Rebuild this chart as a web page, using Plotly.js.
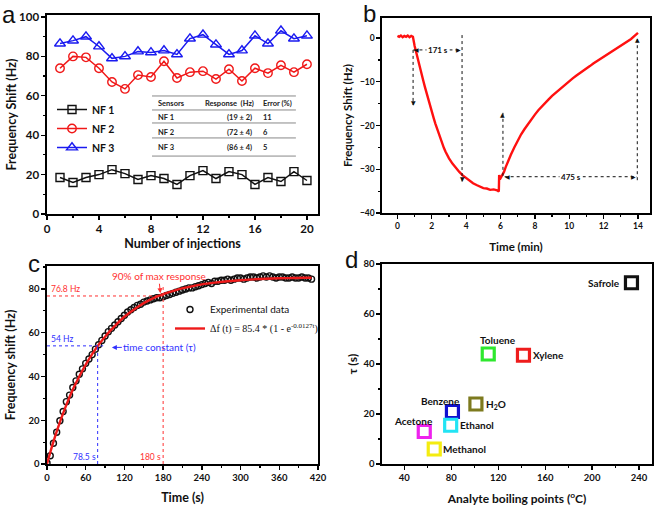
<!DOCTYPE html>
<html><head><meta charset="utf-8">
<script src="https://cdn.plot.ly/plotly-3.0.1.min.js"></script>
<style>html,body{margin:0;padding:0;background:#fff}#chart{width:655px;height:508px}</style>
</head><body><div id="chart"></div>
<script>
// ---------- Panel a ----------
const injections = [1,2,3,4,5,6,7,8,9,10,11,12,13,14,15,16,17,18,19,20];
const nf1 = [18.5,16,18.5,20,22.5,20.5,17.5,19.5,18,15,19.5,22,18,21.5,20,15,18.5,16.5,21.5,17];
const nf2 = [74,80,79.5,74,67,63.5,70.5,69.5,77.5,69,72,72.5,68.5,73.5,67.5,74,71.5,75.5,72,76];
const nf3 = [86.5,88,90,85,79,80,82.5,82,83,81,89,91,86,81,83,90.5,86.5,93,89,90.5];
const seriesNamesA = ['NF 1','NF 2','NF 3'];
const tableHeaders = ['Sensors','Response  (Hz)','Error (%)'];
const tableSensors = ['NF 1','NF 2','NF 3'];
const tableResponse = ['(19 ± 2)','(72 ± 4)','(86 ± 4)'];
const tableError = ['11','6','5'];

// ---------- Panel b ----------
const timeMin = [0,0.1,0.2,0.3,0.4,0.5,0.6,0.7,0.8,0.9,1.0,1.1,1.2,1.3,1.4,1.5,1.6,1.7,1.8,1.9,2.0,2.1,2.2,2.3,2.4,2.5,2.6,2.7,2.8,2.9,3.0,3.2,3.4,3.6,3.8,4.0,4.2,4.4,4.6,4.8,5.0,5.2,5.4,5.6,5.8,5.9,5.92,5.96,6.0,6.1,6.2,6.3,6.4,6.5,6.6,6.8,7.0,7.2,7.4,7.6,7.8,8.0,8.2,8.4,8.6,8.8,9.0,9.2,9.4,9.6,9.8,10.0,10.2,10.4,10.6,10.8,11.0,11.2,11.4,11.6,11.8,12.0,12.2,12.4,12.6,12.8,13.0,13.2,13.4,13.6,13.8,14.0];
const shiftB = [0.5,0.3,0.6,0.2,0.5,0.3,0.6,0.2,0.5,0.3,-1.8,-3.5,-5.1,-6.6,-8.2,-9.7,-11.2,-12.7,-14.1,-15.5,-16.9,-18.2,-19.5,-20.7,-21.9,-23.0,-24.1,-25.1,-26.0,-26.8,-27.5,-28.7,-29.7,-30.6,-31.4,-32.0,-32.7,-33.2,-33.6,-34.0,-34.3,-34.4,-34.7,-34.6,-34.8,-35.1,-31.3,-32.3,-32.0,-31.4,-30.6,-29.5,-28.5,-27.6,-26.7,-25.0,-23.4,-22.0,-20.8,-19.6,-18.5,-17.5,-16.5,-15.6,-14.8,-14.0,-13.2,-12.5,-11.8,-11.1,-10.5,-9.8,-9.2,-8.6,-8.1,-7.5,-6.9,-6.4,-5.8,-5.3,-4.8,-4.3,-3.8,-3.3,-2.8,-2.3,-1.8,-1.3,-0.8,-0.2,0.5,1.2];

// ---------- Panel c ----------
const timeSec = [0,5,10,15,20,25,30,35,40,45,50,55,60,65,70,75,80,85,90,95,100,105,110,115,120,125,130,135,140,145,150,155,160,165,170,175,180,185,190,195,200,205,210,215,220,225,230,235,240,245,250,255,260,265,270,275,280,285,290,295,300,305,310,315,320,325,330,335,340,345,350,355,360,365,370,375,380,385,390,395,400,405,410];
const expShift = [0.5,3.8,9.5,14.5,19.8,24,28.5,31.5,35,38,41,43.5,46,48,50,52.5,54.5,56.5,58.5,60.5,62,63.5,65,66.5,68,69.5,70.5,71.5,72.5,73,74,74.5,75,75.5,76,76,76.5,77,77.5,78,78.5,79,79.5,80,80.5,80.5,81,81.5,82,82.5,83,82.5,83.5,83.5,84,84,84.5,84,84.5,85,85,84.5,85,85.5,85.5,85,85.5,86,85.5,86,85.5,85,85.5,85.5,85,85,85.5,85,85,85.5,85,85,84.5];
const fitTime = [0,10,20,30,40,50,60,70,80,90,100,120,140,160,180,200,220,240,260,280,300,320,340,360,380,400,410];
const fitShift = [0,10.2,19.1,27,34,40,45.4,50.2,54.5,58.2,61.5,67.3,71.7,75.1,77.6,79.5,80.9,82.1,82.9,83.5,84,84.4,84.7,84.9,85,85.1,85.1];
const cLegendNames = ['Experimental data','<span style="font-family:Liberation Serif">Δf (t) = 85.4 * (1 - e<sup>-0.0127t</sup>)</span>'];

// ---------- Panel d ----------
const analytes = ['Safrole','Toluene','Xylene','H<sub>2</sub>O','Benzene','Ethanol','Acetone','Methanol'];
const boilingPoints = [233.5,111.5,141.5,101,81,79.5,57,65.5];
const tau = [72.5,44,43.5,24,21,15.5,13,6];
const analyteColors = ['#111111','#2ee82e','#ee1c1c','#7d7a1e','#1010d0','#22e4f4','#ee22ee','#f4ec10'];

// ---------- layout helpers ----------
const W = 655, H = 508;
const TXT = '#111';
function dom(px0, px1){ return [px0/W, px1/W]; }
function domY(pyTop, pyBot){ return [1 - pyBot/H, 1 - pyTop/H]; }
function axis(o){
  return Object.assign({
    showline:true, linecolor:'#000', linewidth:1.6, mirror:true,
    showgrid:false, zeroline:false, ticks:'outside', ticklen:4, tickwidth:1.3, tickcolor:'#000',
    tickfont:{family:'Lato', size:o.fs, color:TXT, weight:'bold'},
    minor:{dtick:o.minor, ticks:'outside', ticklen:2.5, tickwidth:1.2, tickcolor:'#000'},
    title:{text:o.title, font:{family:'Lato', size:o.tfs, color:TXT, weight:'bold'}, standoff:o.standoff},
    fixedrange:true
  }, o.extra);
}

const layout = {
  width:W, height:H, margin:{l:0,r:0,t:0,b:0},
  paper_bgcolor:'#fff', plot_bgcolor:'#fff',
  showlegend:true,
  xaxis: axis({fs:11.5, minor:2, title:'Number of injections', tfs:12.5, standoff:5,
    extra:{domain:dom(47,318), range:[0,20.85], dtick:4, tick0:0, anchor:'y'}}),
  yaxis: axis({fs:11.5, minor:10, title:'Frequency Shift (Hz)', tfs:12.5, standoff:0,
    extra:{domain:domY(15,214), range:[0,101], dtick:20, tick0:0, anchor:'x'}}),
  xaxis2: axis({fs:8.5, minor:1, title:'Time (min)', tfs:11.5, standoff:13,
    extra:{domain:dom(382,650), range:[-0.9,14.7], dtick:2, tick0:0, anchor:'y2'}}),
  yaxis2: axis({fs:8.5, minor:5, title:'Frequency Shift (Hz)', tfs:11.5, standoff:5,
    extra:{domain:domY(18,213), range:[-40,4.6], dtick:10, tick0:0, anchor:'x2'}}),
  xaxis3: axis({fs:9.5, minor:30, title:'Time (s)', tfs:12.5, standoff:11,
    extra:{domain:dom(47,318), range:[0,420], dtick:60, tick0:0, anchor:'y3'}}),
  yaxis3: axis({fs:9.5, minor:10, title:'Frequency shift (Hz)', tfs:12.5, standoff:10,
    extra:{domain:domY(266,464), range:[0,90.5], dtick:20, tick0:0, anchor:'x3'}}),
  xaxis4: axis({fs:9.5, minor:20, title:'Analyte boiling points (<sup>o</sup>C)', tfs:12, standoff:12,
    extra:{domain:dom(382,652), range:[21,251], dtick:40, tick0:0, anchor:'y4'}}),
  yaxis4: axis({fs:9.5, minor:10, title:'τ (s)', tfs:12, standoff:3,
    extra:{domain:domY(264,464), range:[0,80], dtick:20, tick0:0, anchor:'x4'}}),
  legend:{x:52/W, xanchor:'left', y:1-95/H, yanchor:'top', bgcolor:'rgba(0,0,0,0)',
    font:{family:'Lato', size:10.5, color:TXT, weight:'bold'}, itemwidth:30, tracegroupgap:0},
  legend2:{x:170/W, xanchor:'left', y:1-295/H, yanchor:'top', bgcolor:'rgba(0,0,0,0)',
    font:{family:'Lato', size:10, color:TXT}, itemwidth:30},
  shapes:[], annotations:[]
};

// panel letters
[['a',9,15],['b',369,14],['c',34,263],['d',351,259]].forEach(([t,x,y])=>{
  layout.annotations.push({text:t, xref:'paper', yref:'paper', x:x/W, y:1-y/H, showarrow:false,
    xanchor:'center', yanchor:'middle', font:{family:'Liberation Sans', size:24, color:TXT}});
});

// panel a table
const tblX0 = 8.08, tblX1 = 19.15;
[59.9,52.8,46.2,38.6,29.4].forEach(yv=>{
  layout.shapes.push({type:'line', xref:'x', yref:'y', x0:tblX0, x1:tblX1, y0:yv, y1:yv, line:{color:'#888', width:1}});
});
const tblFont = {family:'Lato', size:7.5, color:'#222', weight:'bold'};
const rowY = [49.2,41.6,34.0];
layout.annotations.push({text:tableHeaders[0], xref:'x', yref:'y', x:8.38, y:55.9, xanchor:'left', showarrow:false, font:tblFont});
layout.annotations.push({text:tableHeaders[1], xref:'x', yref:'y', x:12.0, y:55.9, xanchor:'left', showarrow:false, font:tblFont});
layout.annotations.push({text:tableHeaders[2], xref:'x', yref:'y', x:16.46, y:55.9, xanchor:'left', showarrow:false, font:tblFont});
tableSensors.forEach((s,i)=>{
  layout.annotations.push({text:s, xref:'x', yref:'y', x:8.38, y:rowY[i], xanchor:'left', showarrow:false, font:tblFont});
  layout.annotations.push({text:tableResponse[i], xref:'x', yref:'y', x:15.92, y:rowY[i], xanchor:'right', showarrow:false, font:tblFont});
  layout.annotations.push({text:tableError[i], xref:'x', yref:'y', x:16.46, y:rowY[i], xanchor:'left', showarrow:false, font:tblFont});
});

// dotted guides and arrowheads
function dotLine(xr, yr, x0, y0, x1, y1, color){
  layout.shapes.push({type:'line', xref:xr, yref:yr, x0:x0, y0:y0, x1:x1, y1:y1, line:{color:color, width:1, dash:'dot'}});
}
const glyph = {down:'▼', up:'▲', left:'◀', right:'▶'};
const gshift = {down:[0,3], up:[0,-3], left:[3,0], right:[-3,0]};
function head(xr, yr, x, y, dir, color){
  layout.annotations.push({text:glyph[dir], xref:xr, yref:yr, x:x, y:y, showarrow:false,
    xanchor:'center', yanchor:'middle', xshift:gshift[dir][0], yshift:gshift[dir][1],
    font:{family:'DejaVu Sans', size:6, color:color}});
}
const K = '#111';
dotLine('x2','y2',0.91,-2.7,0.91,-15.3,K); head('x2','y2',0.91,-15.3,'down',K);
dotLine('x2','y2',0.93,-2.7,3.72,-2.7,K); head('x2','y2',0.93,-2.7,'left',K); head('x2','y2',3.72,-2.7,'right',K);
layout.annotations.push({text:'171 s', xref:'x2', yref:'y2', x:2.35, y:-2.7, showarrow:false, bgcolor:'#fff',
  font:{family:'Lato', size:8, color:K, weight:'bold'}, borderpad:1});
dotLine('x2','y2',3.76,0.7,3.76,-32.8,K); head('x2','y2',3.76,-32.8,'down',K);
dotLine('x2','y2',6.14,-31.5,6.14,-16.8,K); head('x2','y2',6.14,-16.8,'up',K);
dotLine('x2','y2',6.24,-31.7,13.94,-31.7,K); head('x2','y2',6.24,-31.7,'left',K); head('x2','y2',13.94,-31.7,'right',K);
layout.annotations.push({text:'475 s', xref:'x2', yref:'y2', x:10.1, y:-31.7, showarrow:false, bgcolor:'#fff',
  font:{family:'Lato', size:8, color:K, weight:'bold'}, borderpad:1});
dotLine('x2','y2',13.96,-32.5,13.96,0.3,K); head('x2','y2',13.96,0.3,'up',K);

// panel c guides
const RC = '#ff3030', BC = '#3030ff';
dotLine('x3','y3',0,76.8,180,76.8,RC);
dotLine('x3','y3',180,0,180,81,RC);
dotLine('x3','y3',0,54,87,54,BC);
dotLine('x3','y3',78.5,0,78.5,54,BC);
const smallC = (c)=>({family:'Lato', size:8.5, color:c});
layout.annotations.push({text:'76.8 Hz', xref:'x3', yref:'y3', x:2.5, y:76.8, xanchor:'left', yanchor:'bottom', showarrow:false, font:smallC(RC)});
layout.annotations.push({text:'54 Hz', xref:'x3', yref:'y3', x:2.5, y:54, xanchor:'left', yanchor:'bottom', showarrow:false, font:smallC(BC)});
layout.annotations.push({text:'78.5 s', xref:'x3', yref:'y3', x:78.5, y:0, xanchor:'right', yanchor:'bottom', showarrow:false, font:smallC(BC)});
layout.annotations.push({text:'180 s', xref:'x3', yref:'y3', x:180, y:0, xanchor:'right', yanchor:'bottom', showarrow:false, font:smallC(RC)});
layout.annotations.push({text:'90% of max response', xref:'x3', yref:'y3', x:176, y:77.6, ax:-2, ay:-18,
  showarrow:true, arrowhead:2, arrowsize:1, arrowwidth:1, arrowcolor:RC, standoff:1,
  font:{family:'Lato', size:10, color:RC}});
layout.annotations.push({text:'time constant (τ)', xref:'x3', yref:'y3', x:100.5, y:53.3, ax:48, ay:0,
  showarrow:true, arrowhead:2, arrowsize:1, arrowwidth:1, arrowcolor:BC,
  font:{family:'Lato', size:10, color:BC}});

// panel d labels
const labelStyle = {
  'Safrole':{xanchor:'right', xshift:-9, yshift:0},
  'Toluene':{xanchor:'center', xshift:10, yshift:14},
  'Xylene':{xanchor:'left', xshift:8, yshift:0},
  'H<sub>2</sub>O':{xanchor:'left', xshift:8, yshift:0},
  'Benzene':{xanchor:'center', xshift:-12, yshift:11},
  'Ethanol':{xanchor:'left', xshift:7, yshift:0},
  'Acetone':{xanchor:'center', xshift:-11, yshift:11},
  'Methanol':{xanchor:'left', xshift:7, yshift:0}
};
analytes.forEach((n,i)=>{
  const s = labelStyle[n];
  layout.annotations.push({text:n, xref:'x4', yref:'y4', x:boilingPoints[i], y:tau[i], showarrow:false,
    xanchor:s.xanchor, xshift:s.xshift, yshift:s.yshift, font:{family:'Lato', size:10, color:TXT, weight:'bold'}});
});

// ---------- traces ----------
const data = [
  {x:injections, y:nf1, name:seriesNamesA[0], type:'scatter', mode:'lines+markers', xaxis:'x', yaxis:'y', legend:'legend',
   line:{color:'#111', width:1.5}, marker:{symbol:'square-open', size:8, color:'#111', line:{width:1.4}}},
  {x:injections, y:nf2, name:seriesNamesA[1], type:'scatter', mode:'lines+markers', xaxis:'x', yaxis:'y', legend:'legend',
   line:{color:'#f01818', width:1.5}, marker:{symbol:'circle-open', size:8.5, color:'#f01818', line:{width:1.4}}},
  {x:injections, y:nf3, name:seriesNamesA[2], type:'scatter', mode:'lines+markers', xaxis:'x', yaxis:'y', legend:'legend',
   line:{color:'#1a1af0', width:1.5}, marker:{symbol:'triangle-up-open', size:9.5, color:'#1a1af0', line:{width:1.4}}},
  {x:timeMin, y:shiftB, type:'scatter', mode:'lines', xaxis:'x2', yaxis:'y2', showlegend:false,
   line:{color:'#ff1010', width:2.4}},
  {x:timeSec, y:expShift, name:cLegendNames[0], type:'scatter', mode:'markers', xaxis:'x3', yaxis:'y3', legend:'legend2',
   marker:{symbol:'circle-open', size:6, color:'#111', line:{width:1.4}}},
  {x:fitTime, y:fitShift, name:cLegendNames[1], type:'scatter', mode:'lines', xaxis:'x3', yaxis:'y3', legend:'legend2',
   line:{color:'#ee1a1a', width:2.4, shape:'spline'}},
  {x:boilingPoints, y:tau, text:analytes, type:'scatter', mode:'markers', xaxis:'x4', yaxis:'y4', showlegend:false,
   marker:{symbol:'square-open', size:12, color:analyteColors, line:{width:3.2}}, hoverinfo:'text'}
];

Plotly.newPlot('chart', data, layout, {staticPlot:true, displayModeBar:false});
</script>
</body></html>
